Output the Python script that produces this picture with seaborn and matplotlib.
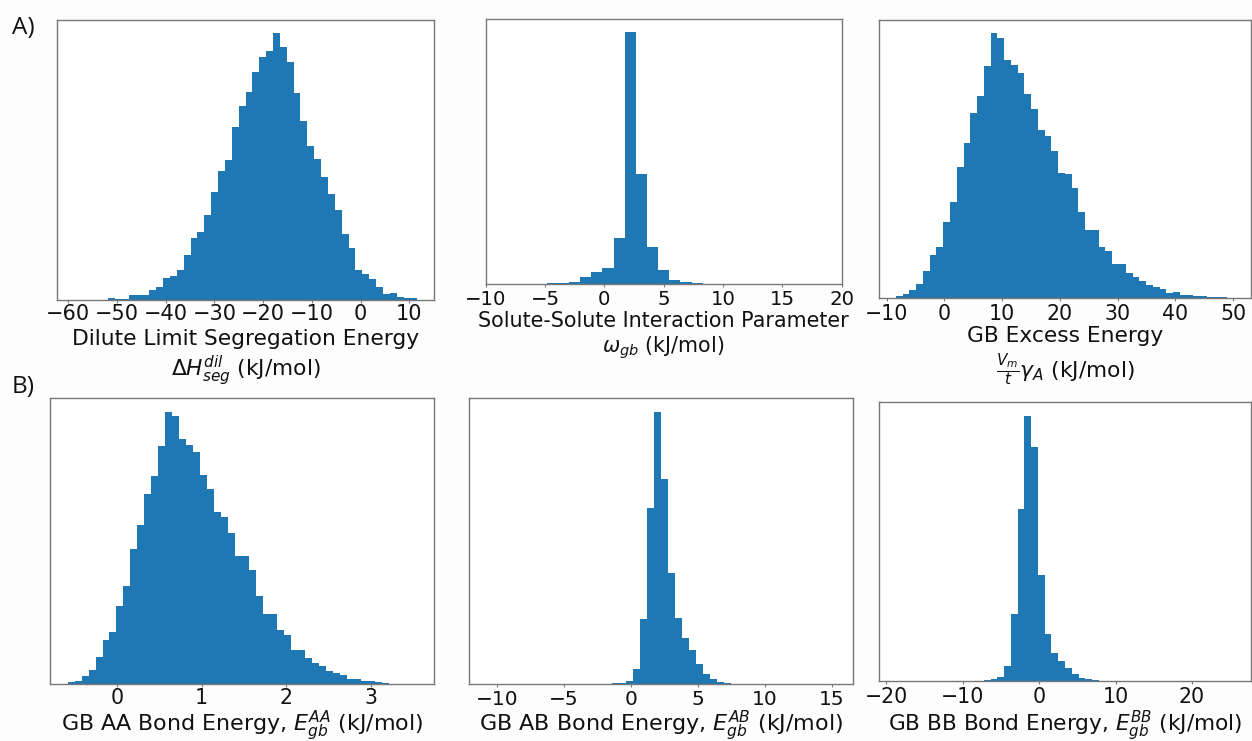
import numpy as np
import pandas as pd
import matplotlib
matplotlib.use("Agg")
import matplotlib.pyplot as plt
import seaborn as sns

# ---------------- data (relative bin counts) ----------------
# Panel A1: dilute limit segregation energy
seg_start, seg_width = -58.9, 1.411
seg_counts = [0.3, 0.3, 0.3, 1, 1, 5, 2, 2, 15, 15, 15, 31, 39, 66, 72, 90, 135, 185, 204, 257,
              324, 388, 421, 520, 584, 627, 687, 731, 748, 802, 761, 715, 624, 539, 463, 424, 370,
              320, 270, 199, 157, 89, 78, 62, 38, 19, 20, 8, 6, 5]

# Panel A2: solute-solute interaction parameter
omg_start, omg_width = -4.87, 0.94
omg_counts = [1, 3, 6, 19, 34, 47, 136, 756, 328, 111, 41, 10, 4, 1, 0.5]

# Panel A3: GB excess energy
exc_start, exc_width = -8.37, 1.17
exc_counts = [6, 11, 23, 41, 80, 127, 151, 227, 287, 392, 465, 553, 606, 694, 793, 780, 713, 697,
              675, 611, 567, 502, 486, 441, 373, 372, 328, 258, 203, 203, 153, 141, 100, 100, 73,
              61, 50, 38, 32, 27, 14, 16, 9, 8, 6, 5, 2, 1, 1, 0.5]

# Panel B1: GB AA bond energy
eaa_start, eaa_width = -0.583, 0.0825
eaa_counts = [7, 10, 24, 42, 82, 131, 155, 233, 294, 404, 478, 569, 624, 715, 816, 803, 734, 716,
              696, 628, 586, 517, 500, 454, 384, 384, 341, 265, 210, 210, 161, 146, 103, 103, 77,
              64, 54, 39, 33, 27, 16, 14, 10, 8, 6, 4, 1, 1, 1, 1]

# Panel B2: GB AB bond energy
eab_start, eab_width = -1.933, 0.521
eab_counts = [1, 3, 3, 9, 45, 194, 527, 817, 617, 334, 198, 139, 101, 61, 30, 14, 6, 2, 1]

# Panel B3: GB BB bond energy
ebb_start, ebb_width = -8.10, 0.884
ebb_counts = [1, 3, 6, 11, 45, 201, 516, 796, 702, 317, 141, 83, 59, 39, 21, 9, 5, 2, 1]

# axis labels
labels = [
    "Dilute Limit Segregation Energy\n$\\Delta H^{dil}_{seg}$ (kJ/mol)",
    "Solute-Solute Interaction Parameter\n$\\omega_{gb}$ (kJ/mol)",
    "GB Excess Energy\n$\\frac{V_m}{t}\\gamma_A$ (kJ/mol)",
    "GB AA Bond Energy, $E_{gb}^{AA}$ (kJ/mol)",
    "GB AB Bond Energy, $E_{gb}^{AB}$ (kJ/mol)",
    "GB BB Bond Energy, $E_{gb}^{BB}$ (kJ/mol)",
]
xlims = [(-62.26, 15.13), (-10, 20), (-11.3, 53.09), (-0.787, 3.748), (-12.09, 16.58), (-20.92, 27.71)]
xticks = [[-60, -50, -40, -30, -20, -10, 0, 10], [-10, -5, 0, 5, 10, 15, 20],
          [-10, 0, 10, 20, 30, 40, 50], [0, 1, 2, 3], [-10, -5, 0, 5, 10, 15], [-20, -10, 0, 10, 20]]

series = [(seg_start, seg_width, seg_counts), (omg_start, omg_width, omg_counts),
          (exc_start, exc_width, exc_counts), (eaa_start, eaa_width, eaa_counts),
          (eab_start, eab_width, eab_counts), (ebb_start, ebb_width, ebb_counts)]

# ---------------- style ----------------
sns.set_style("white")
plt.rcParams["font.family"] = ["DejaVu Sans"]
plt.rcParams["mathtext.fontset"] = "dejavusans"

W, H = 1252, 741
fig = plt.figure(figsize=(W / 100, H / 100), dpi=100)
fig.patch.set_facecolor("#fdfdfd")

# pixel boxes (left, right, top, bottom)
boxes = [(57.3, 434.3, 20, 300), (485.7, 841.7, 19, 283.7), (879, 1251, 20, 297.7),
         (50.3, 434.3, 398.3, 684), (469.3, 852.7, 398.3, 684), (879, 1251, 402.3, 681)]
label_sizes = [15.7, 14.9, 15.7, 15.9, 16.0, 15.6]
tick_sizes = [15.0, 14.2, 14.8, 14.8, 14.5, 14.8]
tick_pads = [0.6, 1.8, 1.8, 0.7, 1.8, 1.8]
label_pads = [3.2, 1.5, 1.5, 0.0, 0.0, 1.0]

for i, ((l, r, t, b), (start, width, counts)) in enumerate(zip(boxes, series)):
    ax = fig.add_axes([l / W, 1 - b / H, (r - l) / W, (b - t) / H])
    counts = [float(c) for c in counts]
    edges = [start + width * k for k in range(len(counts) + 1)]
    df = pd.DataFrame({
        "x": [0.5 * (edges[k] + edges[k + 1]) for k in range(len(counts))],
        "w": counts,
    })
    sns.histplot(data=df, x="x", weights="w", bins=edges, ax=ax, color="#1f77b4",
                 alpha=1, linewidth=0, edgecolor="none")
    ax.set_xlim(*xlims[i])
    ax.set_ylim(0, max(counts) * 1.05)
    ax.set_xticks(xticks[i])
    ax.set_yticks([])
    ax.set_ylabel("")
    ax.set_xlabel(labels[i], fontsize=label_sizes[i], color="#111111", labelpad=label_pads[i])
    ax.tick_params(axis="x", bottom=True, length=2.5, width=0.8, color="#777777",
                   labelsize=tick_sizes[i], labelcolor="#111111", pad=tick_pads[i])
    ax.set_facecolor("white")
    for sp in ax.spines.values():
        sp.set_color("#777777")
        sp.set_linewidth(1.0)

fig.text(12 / W, 1 - 34 / H, "A)", fontsize=17.5, family=["Open Sans", "DejaVu Sans"], color="#111111")
fig.text(12 / W, 1 - 393 / H, "B)", fontsize=17.5, family=["Open Sans", "DejaVu Sans"], color="#111111")

fig.savefig("out.png", dpi=100, facecolor=fig.get_facecolor())
